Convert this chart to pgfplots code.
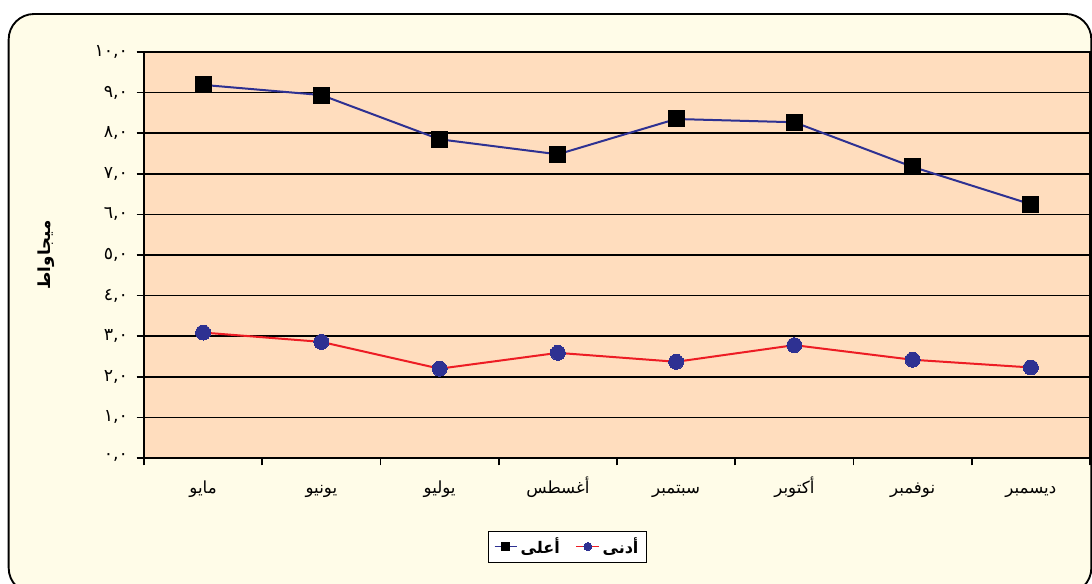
\documentclass[border=0pt]{standalone}
\usepackage{pgfplots}
\pgfplotsset{compat=1.18}
\usepackage{fontspec}
\setmainfont{Liberation Sans}
\newfontfamily\arabicfont[Script=Arabic]{DejaVu Sans}
\TeXXeTstate=1
\definecolor{peach}{RGB}{255,221,190}
\definecolor{cream}{RGB}{255,252,232}
\definecolor{blueline}{RGB}{46,49,146}
\definecolor{redline}{RGB}{237,28,36}
\pgfplotstableread{
x high low
0 9.19 3.09
1 8.94 2.86
2 7.85 2.20
3 7.48 2.59
4 8.35 2.37
5 8.27 2.78
6 7.17 2.42
7 6.25 2.23
}\mydata
\newcommand{\ar}[1]{{\arabicfont\beginR #1\endR}}
\begin{document}
\begin{tikzpicture}
\useasboundingbox (0,0) rectangle (819pt,-437.25pt);
\draw[line width=1.4pt, rounded corners=19pt, fill=cream] (6.5pt,-10.5pt) rectangle (818.5pt,-445pt);
\begin{axis}[
  at={(108pt,-343.5pt)}, anchor=south west,
  scale only axis, width=709.5pt, height=304.5pt,
  xmin=-0.5, xmax=7.5, ymin=0, ymax=10,
  axis background/.style={fill=peach},
  axis line style={line width=1.3pt, black},
  ytick={0,1,...,10},
  yticklabels={{٠,٠},{١,٠},{٢,٠},{٣,٠},{٤,٠},{٥,٠},{٦,٠},{٧,٠},{٨,٠},{٩,٠},{١٠,٠}},
  yticklabel style={font=\arabicfont\fontsize{13}{15}\selectfont, xshift=-3pt},
  xtick={-0.5,0.5,...,7.5},
  x tick label as interval=true,
  xticklabels={\ar{مايو},\ar{يونيو},\ar{يوليو},\ar{أغسطس},\ar{سبتمبر},\ar{أكتوبر},\ar{نوفمبر},\ar{ديسمبر}},
  xticklabel style={font=\fontsize{12.5}{14}\selectfont, text height=10pt, text depth=4pt, yshift=-7.5pt},
  xtick pos=bottom, ytick pos=left,
  tick align=outside,
  major tick length=5.5pt,
  tick style={line width=1.3pt, black},
  ymajorgrids=true,
  grid style={line width=1.3pt, black},
  ylabel={\arabicfont\bfseries\fontsize{12.5}{14}\selectfont\beginR ميجاواط\endR},
  ylabel style={at={(axis description cs:-0.103,0.5)}, anchor=center},
  legend style={at={(axis description cs:0.4477,-0.218)}, anchor=center,
    draw=black, fill=white, line width=0.6pt, legend columns=2,
    font=\arabicfont\bfseries\fontsize{12}{13}\selectfont,
    /tikz/every even column/.append style={column sep=10pt},
    inner xsep=4pt, inner ysep=3pt},
  legend image post style={mark size=3pt, line width=1pt},
]
\addplot[blueline, line width=1.5pt, mark=square*, mark size=6pt, mark options={fill=black, draw=black, line width=0pt}] table[x=x, y=high] {\mydata};
\addlegendentry{\beginR أعلى\endR}
\addplot[redline, line width=1.5pt, mark=*, mark size=5.6pt, mark options={fill=blueline, draw=blueline, line width=0pt}] table[x=x, y=low] {\mydata};
\addlegendentry{\beginR أدنى\endR}
\end{axis}
\end{tikzpicture}
\end{document}
